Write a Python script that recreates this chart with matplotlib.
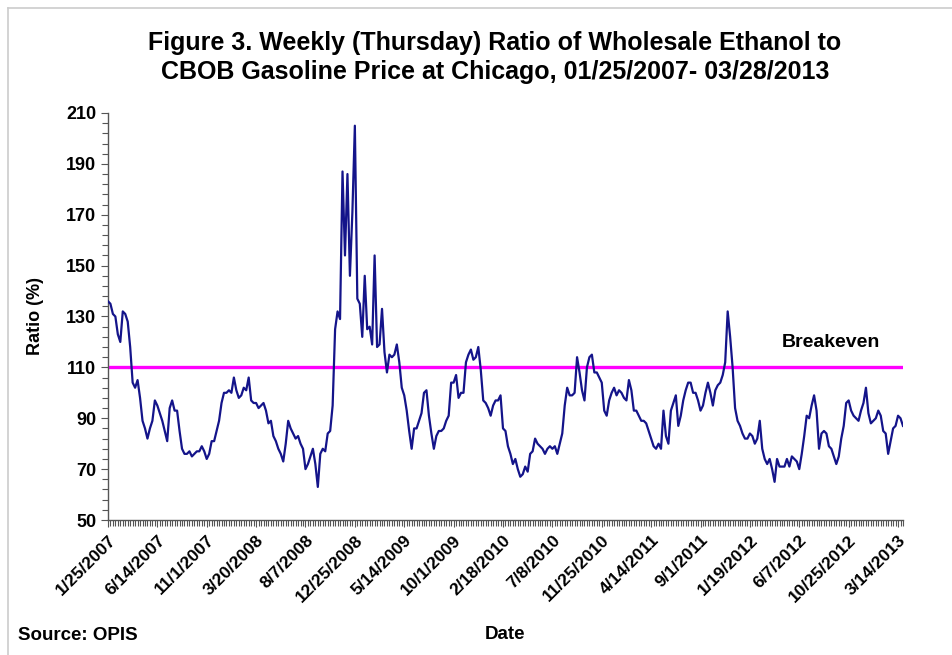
import matplotlib
matplotlib.use("Agg")
import matplotlib.pyplot as plt
from matplotlib.lines import Line2D
from matplotlib.ticker import MultipleLocator, FixedLocator

# weekly (Thursday) ratio of ethanol to CBOB price, %, 1/25/2007 .. 3/28/2013
ratio = [
    136, 135, 131, 130, 123, 120, 132, 131, 128, 118,
    104, 102, 105, 98, 89, 86, 82, 86, 89, 97,
    95, 92, 89, 85, 81, 94, 97, 93, 93, 85,
    78, 76, 76, 77, 75, 76, 77, 77, 79, 77,
    74, 76, 81, 81, 85, 89, 96, 100, 100, 101,
    100, 106, 101, 98, 99, 102, 101, 106, 97, 96,
    96, 94, 95, 96, 93, 88, 89, 83, 81, 78,
    76, 73, 80, 89, 86, 84, 82, 83, 80, 78,
    70, 72, 75, 78, 72, 63, 76, 78, 77, 84,
    85, 95, 125, 132, 129, 187, 154, 186, 146, 171,
    205, 137, 135, 122, 146, 125, 126, 119, 154, 118,
    119, 133, 116, 108, 115, 114, 115, 119, 112, 102,
    99, 93, 85, 78, 86, 86, 89, 92, 100, 101,
    91, 84, 78, 83, 85, 85, 86, 89, 91, 104,
    104, 107, 98, 100, 100, 112, 115, 117, 113, 114,
    118, 109, 97, 96, 94, 91, 95, 97, 97, 99,
    86, 85, 79, 76, 72, 74, 70, 67, 68, 71,
    69, 76, 77, 82, 80, 79, 78, 76, 78, 79,
    78, 79, 76, 80, 84, 95, 102, 99, 99, 100,
    114, 108, 101, 97, 110, 114, 115, 108, 108, 106,
    104, 93, 91, 97, 100, 102, 99, 101, 100, 98,
    97, 105, 101, 93, 93, 91, 89, 89, 88, 85,
    82, 79, 78, 80, 78, 93, 83, 80, 93, 96,
    99, 87, 91, 97, 101, 104, 104, 100, 100, 97,
    93, 95, 100, 104, 100, 95, 101, 103, 104, 107,
    112, 132, 122, 110, 94, 89, 87, 84, 82, 82,
    84, 83, 80, 82, 89, 78, 74, 72, 74, 70,
    65, 74, 71, 71, 71, 74, 71, 75, 74, 73,
    70, 76, 83, 91, 90, 95, 99, 93, 78, 84,
    85, 84, 79, 78, 75, 72, 75, 82, 87, 96,
    97, 93, 91, 90, 89, 93, 96, 102, 92, 88,
    89, 90, 93, 91, 85, 84, 76, 81, 86, 87,
    91, 90, 87,
]

tick_labels = [
    "1/25/2007", "6/14/2007", "11/1/2007", "3/20/2008", "8/7/2008",
    "12/25/2008", "5/14/2009", "10/1/2009", "2/18/2010", "7/8/2010",
    "11/25/2010", "4/14/2011", "9/1/2011", "1/19/2012", "6/7/2012",
    "10/25/2012", "3/14/2013",
]
label_step = 20  # weeks between labelled ticks
breakeven = 110
y_min, y_max = 50, 210

plt.rcParams['font.family'] = ['Liberation Sans', 'DejaVu Sans']

fig = plt.figure(figsize=(9.52, 6.55), dpi=100)
ax = fig.add_axes([0.1134, 0.2061, 0.8351, 0.6214])

weeks = list(range(len(ratio)))
ax.plot(weeks, ratio, color='#14148a', lw=1.6, zorder=3)
ax.axhline(breakeven, color='#ff00ff', lw=2.4, zorder=2)

ax.set_xlim(0, len(ratio) - 1)
ax.set_ylim(y_min, y_max)

ax.yaxis.set_major_locator(FixedLocator(list(range(y_min, y_max + 1, 20))))
ax.yaxis.set_minor_locator(FixedLocator(list(range(y_min, y_max + 1, 4))))
ax.xaxis.set_major_locator(FixedLocator([i * label_step for i in range(len(tick_labels))]))
ax.xaxis.set_minor_locator(MultipleLocator(1))
ax.set_xticklabels(tick_labels, rotation=45, ha='right', rotation_mode='anchor',
                   fontsize=12.5, fontweight='bold')
for t in ax.get_yticklabels():
    t.set_fontsize(13)
    t.set_fontweight('bold')

ax.tick_params(axis='both', which='both', direction='out', color='#555555', width=0.8)
ax.tick_params(axis='both', which='major', length=5)
ax.tick_params(axis='both', which='minor', length=4)
ax.tick_params(axis='x', which='major', pad=4)

for side in ('top', 'right'):
    ax.spines[side].set_visible(False)
for side in ('left', 'bottom'):
    ax.spines[side].set_color('#555555')
    ax.spines[side].set_linewidth(1.0)

ax.set_ylabel('Ratio (%)', fontsize=13, fontweight='bold', labelpad=16)
ax.text(0.909, 0.415, 'Breakeven', transform=ax.transAxes, fontsize=14,
        fontweight='bold', ha='center', va='bottom')

fig.text(0.52, 0.912, 'Figure 3. Weekly (Thursday) Ratio of Wholesale Ethanol to\n'
         'CBOB Gasoline Price at Chicago, 01/25/2007- 03/28/2013',
         ha='center', va='center', fontsize=18, fontweight='bold',
         linespacing=1.25)
fig.text(0.53, 0.032, 'Date', ha='center', va='center', fontsize=13.5, fontweight='bold')
fig.text(0.019, 0.03, 'Source: OPIS', ha='left', va='center', fontsize=13.5, fontweight='bold')

# light frame at top and left, as in the original screenshot
fig.add_artist(Line2D([8 / 952, 1], [1 - 8 / 655, 1 - 8 / 655], transform=fig.transFigure,
                      color='#cccccc', lw=1.2))
fig.add_artist(Line2D([8 / 952, 8 / 952], [0, 1 - 8 / 655], transform=fig.transFigure,
                      color='#cccccc', lw=1.2))

fig.savefig('out.png', dpi=100)
